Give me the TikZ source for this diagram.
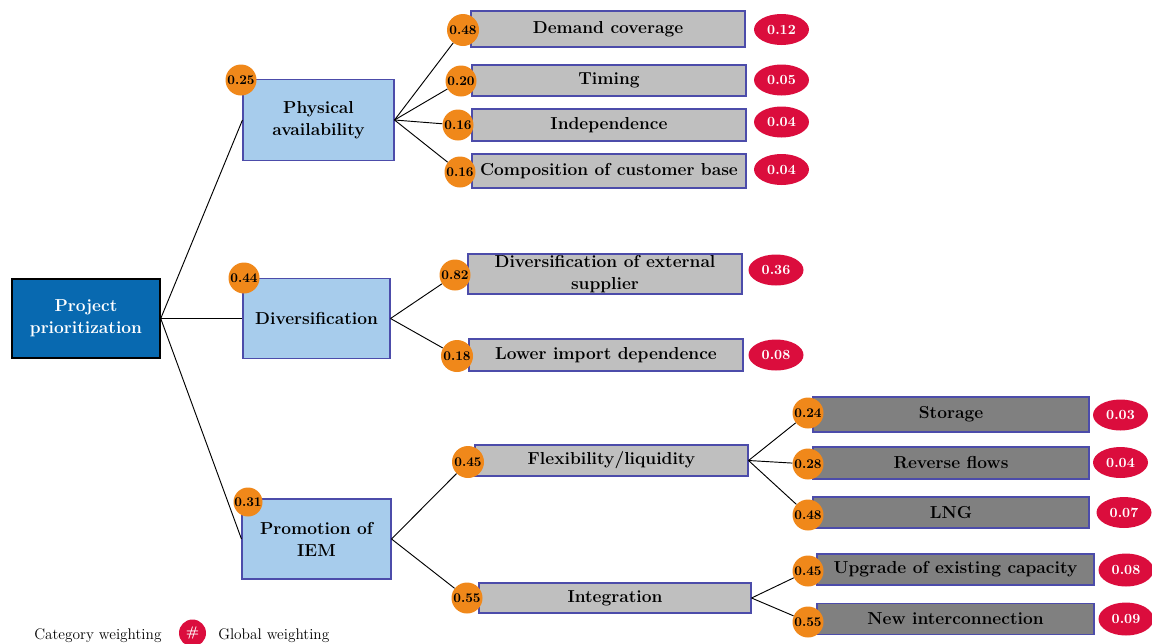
\documentclass[tikz,border=0pt]{standalone}
\usetikzlibrary{shapes.geometric}
\definecolor{rootblue}{HTML}{0869B0}
\definecolor{catblue}{HTML}{A7CCEC}
\definecolor{lightgrey}{HTML}{BFBFBF}
\definecolor{midgrey}{HTML}{808080}
\definecolor{boxedge}{HTML}{4C4CAA}
\definecolor{badgeorange}{HTML}{F0881A}
\definecolor{globalred}{HTML}{DB0D3D}
\newcommand\pxu{0.75pt}
\newcommand\boxfont{\fontsize{13}{16.5}\selectfont\bfseries}
\newcommand\badgefont{\fontsize{10}{12}\selectfont\bfseries}
\newcommand\globalfont{\fontsize{10.5}{12}\selectfont\bfseries}
\newcommand\legendfont{\fontsize{11.5}{13}\selectfont}
\begin{document}
\begin{tikzpicture}[x=0.75pt,y=-0.75pt,
  base/.style={draw=boxedge, line width=0.8pt, align=center, inner sep=0pt, font=\boxfont, text=black},
  rootbox/.style={base, draw=black, line width=1.1pt, fill=rootblue, text=white},
  catbox/.style={base, fill=catblue},
  subbox/.style={base, fill=lightgrey},
  leafbox/.style={base, fill=midgrey},
  wbadge/.style={circle, fill=badgeorange, inner sep=0pt, minimum size=31*\pxu, font=\badgefont},
  gbadge/.style={ellipse, fill=globalred, text=white, inner sep=0pt, minimum width=55*\pxu, minimum height=31*\pxu, font=\globalfont},
  link/.style={line width=0.7pt}
]
\useasboundingbox (0,0) rectangle (1152,643);

% root and the three categories
\node[rootbox, minimum width=148*\pxu, minimum height=79*\pxu] (root) at (86,318.5) {Project\\prioritization};
\node[catbox, minimum width=151*\pxu, minimum height=81*\pxu] (phys) at (318.5,120) {Physical\\availability};
\node[catbox, minimum width=147*\pxu, minimum height=80*\pxu] (div) at (316.5,318.5) {Diversification};
\node[catbox, minimum width=149*\pxu, minimum height=80*\pxu] (prom) at (316.5,539) {Promotion of\\IEM};

% criteria of physical availability
\node[subbox, minimum width=274*\pxu, minimum height=36*\pxu] (demand) at (608,29) {Demand coverage};
\node[subbox, minimum width=274*\pxu, minimum height=31*\pxu] (timing) at (609,80.5) {Timing};
\node[subbox, minimum width=274*\pxu, minimum height=32*\pxu] (indep) at (609,125) {Independence};
\node[subbox, minimum width=274*\pxu, minimum height=34*\pxu] (comp) at (609,171) {Composition of customer base};

% criteria of diversification
\node[subbox, minimum width=274*\pxu, minimum height=40*\pxu] (divext) at (605,274) {Diversification of external\\supplier};
\node[subbox, minimum width=274*\pxu, minimum height=32*\pxu] (lower) at (606,355) {Lower import dependence};

% criteria of IEM promotion
\node[subbox, minimum width=273*\pxu, minimum height=31*\pxu] (flex) at (611.5,460.5) {Flexibility/liquidity};
\node[subbox, minimum width=272*\pxu, minimum height=30*\pxu] (integ) at (615,598) {Integration};

\node[leafbox, minimum width=276*\pxu, minimum height=35*\pxu] (storage) at (951,414.5) {Storage};
\node[leafbox, minimum width=276*\pxu, minimum height=32*\pxu] (reverse) at (951,463) {Reverse flows};
\node[leafbox, minimum width=276*\pxu, minimum height=31*\pxu] (lng) at (951,512.5) {LNG};
\node[leafbox, minimum width=277*\pxu, minimum height=31*\pxu] (upgrade) at (955.5,569.5) {Upgrade of existing capacity};
\node[leafbox, minimum width=277*\pxu, minimum height=31*\pxu] (newint) at (955.5,619) {New interconnection};

% category weightings
\node[wbadge] (wphys) at (241,80) {0.25};
\node[wbadge] (wdiv) at (244,278) {0.44};
\node[wbadge, minimum size=29*\pxu] (wprom) at (248,502) {0.31};
\node[wbadge, minimum size=32*\pxu] (wdemand) at (463,30) {0.48};
\node[wbadge] (wtiming) at (461,81) {0.20};
\node[wbadge] (windep) at (458,125) {0.16};
\node[wbadge] (wcomp) at (460,172) {0.16};
\node[wbadge] (wdivext) at (455,275) {0.82};
\node[wbadge, minimum size=32*\pxu] (wlower) at (457,356) {0.18};
\node[wbadge, minimum size=32*\pxu] (wflex) at (468,462) {0.45};
\node[wbadge] (winteg) at (467,598) {0.55};
\node[wbadge] (wstorage) at (808,413) {0.24};
\node[wbadge] (wreverse) at (808,464) {0.28};
\node[wbadge] (wlng) at (808,515) {0.48};
\node[wbadge] (wupgrade) at (808,571) {0.45};
\node[wbadge] (wnewint) at (808,622) {0.55};

% global weightings
\node[gbadge] (gdemand) at (781.5,29.5) {0.12};
\node[gbadge] (gtiming) at (781.5,80) {0.05};
\node[gbadge] (gindep) at (781.5,122) {0.04};
\node[gbadge] (gcomp) at (781.5,169.5) {0.04};
\node[gbadge] (gdivext) at (776,270) {0.36};
\node[gbadge] (glower) at (776,355) {0.08};
\node[gbadge] (gstorage) at (1120.5,415) {0.03};
\node[gbadge] (greverse) at (1120.5,462.5) {0.04};
\node[gbadge] (glng) at (1124,512.5) {0.07};
\node[gbadge, minimum height=33*\pxu] (gupgrade) at (1126,570) {0.08};
\node[gbadge, minimum height=33*\pxu] (gnewint) at (1126,619) {0.09};

% connectors
\draw[link] (root.east) -- (phys.west);
\draw[link] (root.east) -- (div.west);
\draw[link] (root.east) -- (prom.west);
\foreach \t in {wdemand,wtiming,windep,wcomp} \draw[link] (phys.east) -- (\t);
\foreach \t in {wdivext,wlower} \draw[link] (div.east) -- (\t);
\foreach \t in {wflex,winteg} \draw[link] (prom.east) -- (\t);
\foreach \t in {wstorage,wreverse,wlng} \draw[link] (flex.east) -- (\t);
\foreach \t in {wupgrade,wnewint} \draw[link] (integ.east) -- (\t);

% legend
\node[anchor=base west, font=\legendfont, inner sep=0pt] (lcat) at (34,639) {Category weighting};
\node[circle, fill=globalred, text=white, inner sep=0pt, minimum size=27*\pxu, font=\globalfont] (lglob) at (192.5,633) {\#};
\node[anchor=base west, font=\legendfont, inner sep=0pt] (lglobtxt) at (218,639) {Global weighting};
\end{tikzpicture}
\end{document}
